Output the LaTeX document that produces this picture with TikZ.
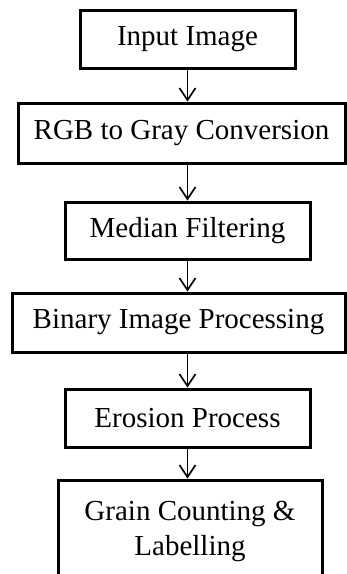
\documentclass[tikz,border=0pt]{standalone}
\usepackage{fontspec}
\setmainfont{Liberation Serif}
\usetikzlibrary{arrows.meta}

\tikzset{
    procbox/.style={draw, line width=3pt, rectangle, align=center, inner sep=0pt,
        font=\fontsize{29}{35}\selectfont},
    flowarrow/.style={line width=1.6pt, -{Straight Barb[length=12pt, width=16pt, line width=1.6pt]}}
}

\begin{document}
\begin{tikzpicture}[x=1pt, y=-1pt]
        \useasboundingbox (0,0) rectangle (347,574);
        \clip (0,0) rectangle (347,574);
        \node[procbox, minimum width=215pt, minimum height=58pt] (input) at (187.5, 39) {Input Image};
        \node[procbox, minimum width=327pt, minimum height=60pt] (gray) at (181.5, 133) {RGB to Gray Conversion};
        \node[procbox, minimum width=245pt, minimum height=57pt] (median) at (187.5, 230.5) {Median Filtering};
        \node[procbox, minimum width=333pt, minimum height=59pt] (binary) at (178.5, 322.5) {Binary Image Processing};
        \node[procbox, minimum width=245pt, minimum height=58pt] (erosion) at (187.5, 418) {Erosion Process};
        \node[procbox, minimum width=264pt, minimum height=102pt] (count) at (190, 531) {Grain Counting \&\\Labelling};
        \draw[flowarrow] (input.south) -- (input.south |- gray.north);
        \draw[flowarrow] (input.south |- gray.south) -- (input.south |- median.north);
        \draw[flowarrow] (median.south) -- (median.south |- binary.north);
        \draw[flowarrow] (median.south |- binary.south) -- (erosion.north);
        \draw[flowarrow] (erosion.south) -- (erosion.south |- count.north);
    \end{tikzpicture}
\end{document}
